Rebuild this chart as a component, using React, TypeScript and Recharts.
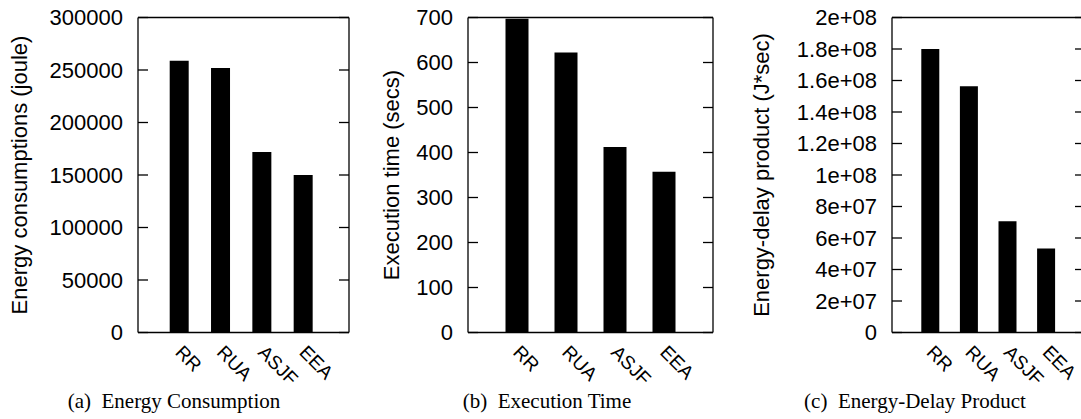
import { Bar, BarChart, ReferenceLine, XAxis, YAxis } from "recharts";

// scheduling algorithms compared in all three panels
const algorithms = ["RR", "RUA", "ASJF", "EEA"];

// (a) energy in joule, (b) time in secs, (c) energy * time
const energyJoules = [258800, 251800, 171900, 150000];
const executionSecs = [697, 622, 412, 357];
const energyDelay = [1.8e8, 1.563e8, 7.07e7, 5.34e7];

const energyTicks = [0, 50000, 100000, 150000, 200000, 250000, 300000];
const timeTicks = [0, 100, 200, 300, 400, 500, 600, 700];
const edpTicks = [0, 2e7, 4e7, 6e7, 8e7, 1e8, 1.2e8, 1.4e8, 1.6e8, 1.8e8, 2e8];

const SANS = "'Liberation Sans', Arial, Helvetica, sans-serif";
const SERIF = "'Liberation Serif', 'Times New Roman', serif";

const CHART_H = 419;
const PLOT_TOP = 17.5;
const PLOT_BOTTOM = 332.5;
const STROKE = 1.3;
const TICK_LEN = 10;

// gnuplot style exponent: 1.8e+08
function formatExp(v: number): string {
  if (v === 0) return "0";
  const [m, e] = v.toExponential().split("e");
  return `${m}e${e[0]}${e.slice(1).padStart(2, "0")}`;
}

function renderXTick({ x, y, payload }: any) {
  const tx = x - 5;
  const ty = y + 21;
  return (
    <text x={tx} y={ty} transform={`rotate(45, ${tx}, ${ty})`} fontFamily={SANS} fontSize={19} fill="#000">
      {payload.value}
    </text>
  );
}

type PanelProps = {
  left: number;
  width: number;
  axisWidth: number;
  rightWidth: number;
  values: number[];
  ticks: number[];
  barSize: number;
  padLeft: number;
  padRight: number;
  format?: (v: number) => string;
  yLabel: string;
  yLabelX: number;
  caption: string;
  captionX: number;
};

function Panel(p: PanelProps) {
  const data = algorithms.map((name, i) => ({ name, value: p.values[i] }));
  const max = p.ticks[p.ticks.length - 1];
  const midY = (PLOT_TOP + PLOT_BOTTOM) / 2;
  const plotLeft = p.axisWidth;
  const plotRight = p.width - p.rightWidth;

  // inward tick marks on both borders (gnuplot mirror tics) and the label outside
  const renderYTick = ({ y, payload }: any) => {
    const label = p.format ? p.format(payload.value) : String(payload.value);
    return (
      <g>
        <line x1={plotLeft} x2={plotLeft + TICK_LEN} y1={y} y2={y} stroke="#000" strokeWidth={STROKE} />
        <line x1={plotRight - TICK_LEN} x2={plotRight} y1={y} y2={y} stroke="#000" strokeWidth={STROKE} />
        <text x={plotLeft - 15} y={y} dy="0.36em" textAnchor="end" fontFamily={SANS} fontSize={22} fill="#000">
          {label}
        </text>
      </g>
    );
  };

  return (
    <div style={{ position: "absolute", left: p.left, top: 0, width: p.width, height: CHART_H }}>
      <BarChart
        width={p.width}
        height={CHART_H}
        data={data}
        margin={{ top: PLOT_TOP, right: p.rightWidth, bottom: 0, left: 0 }}
      >
        <XAxis
          dataKey="name"
          height={CHART_H - PLOT_BOTTOM}
          padding={{ left: p.padLeft, right: p.padRight }}
          interval={0}
          tickLine={false}
          tickSize={0}
          tickMargin={0}
          axisLine={{ stroke: "#000", strokeWidth: STROKE }}
          tick={renderXTick}
        />
        <YAxis
          width={p.axisWidth}
          domain={[0, max]}
          ticks={p.ticks}
          interval={0}
          tickSize={0}
          tickMargin={0}
          tickLine={false}
          axisLine={{ stroke: "#000", strokeWidth: STROKE }}
          tick={renderYTick}
        />
        <ReferenceLine y={max} stroke="#000" strokeWidth={STROKE} />
        <Bar dataKey="value" fill="#000" barSize={p.barSize} isAnimationActive={false} />
      </BarChart>
      <svg width={p.width} height={CHART_H} style={{ position: "absolute", left: 0, top: 0, pointerEvents: "none" }}>
        <line x1={plotRight} x2={plotRight} y1={PLOT_TOP} y2={PLOT_BOTTOM} stroke="#000" strokeWidth={STROKE} />
        <text
          x={p.yLabelX}
          y={midY}
          transform={`rotate(-90, ${p.yLabelX}, ${midY})`}
          textAnchor="middle"
          fontFamily={SANS}
          fontSize={22}
          fill="#000"
        >
          {p.yLabel}
        </text>
        <text x={p.captionX} y={408} textAnchor="middle" fontFamily={SERIF} fontSize={21} fill="#000" style={{ whiteSpace: "pre" }}>
          {p.caption}
        </text>
      </svg>
    </div>
  );
}

export default function App() {
  return (
    <div
      style={{
        position: "absolute",
        left: 0,
        top: 0,
        width: 1081,
        height: CHART_H,
        overflow: "hidden",
        background: "#fff",
      }}
    >
      <Panel
        left={0}
        width={360}
        axisWidth={138}
        rightWidth={11}
        values={energyJoules}
        ticks={energyTicks}
        barSize={19}
        padLeft={20.7}
        padRight={25}
        yLabel="Energy consumptions (joule)"
        yLabelX={27}
        caption="(a)  Energy Consumption"
        captionX={174}
      />
      <Panel
        left={360}
        width={360}
        axisWidth={108}
        rightWidth={7}
        values={executionSecs}
        ticks={timeTicks}
        barSize={23}
        padLeft={24.5}
        padRight={24.5}
        yLabel="Execution time (secs)"
        yLabelX={38.5}
        caption="(b)  Execution Time"
        captionX={187}
      />
      <Panel
        left={720}
        width={380}
        axisWidth={172}
        rightWidth={15}
        values={energyDelay}
        ticks={edpTicks}
        barSize={18}
        padLeft={19.3}
        padRight={19.3}
        format={formatExp}
        yLabel="Energy-delay product (J*sec)"
        yLabelX={48.5}
        caption="(c)  Energy-Delay Product"
        captionX={195}
      />
    </div>
  );
}
